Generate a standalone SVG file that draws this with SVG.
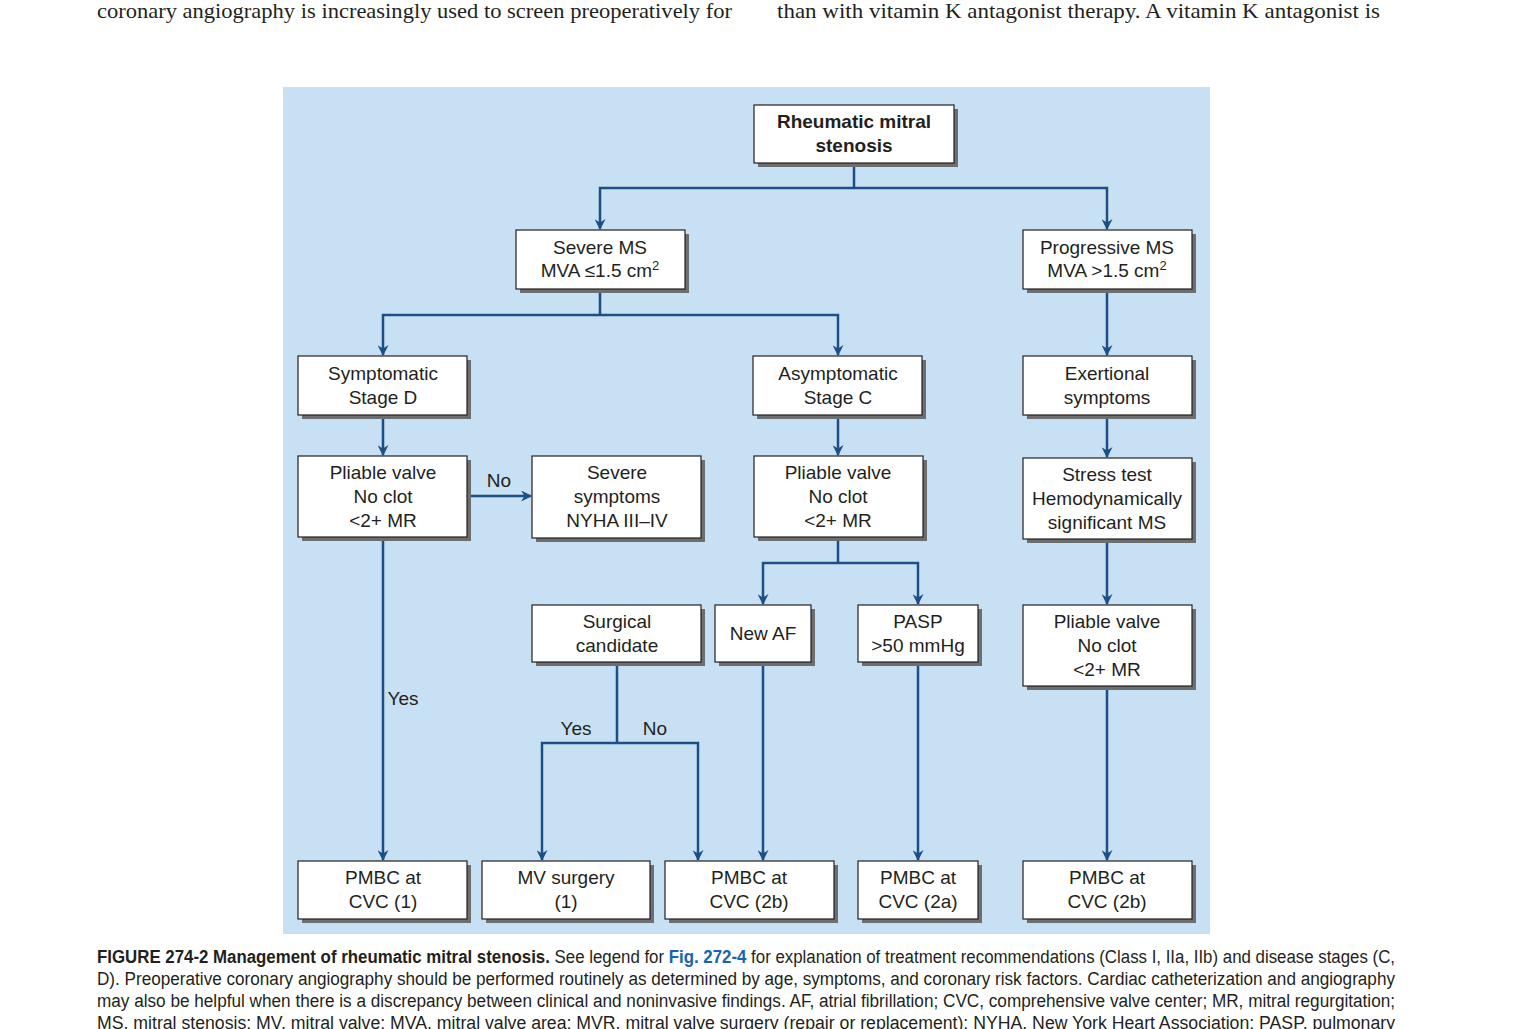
<svg xmlns="http://www.w3.org/2000/svg" width="1530" height="1029" viewBox="0 0 1530 1029">
<defs>
<marker id="ar" viewBox="0 0 10 10" refX="9" refY="5" markerWidth="13" markerHeight="11" orient="auto" markerUnits="userSpaceOnUse"><path d="M0,0 L10,5 L0,10 L3,5 z" fill="#1b4f86"/></marker>
</defs>
<style>
.sh{fill:#6d6e70}
.bx{fill:#fff;stroke:#231f20;stroke-width:1.2}
.t{font-family:"Liberation Sans",Arial,sans-serif;font-size:19px;fill:#231f20;text-anchor:middle}
.b{font-weight:bold}
.c{fill:none;stroke:#1b4f86;stroke-width:2.5}
.a{marker-end:url(#ar)}
.body{font-family:"Liberation Serif","Times New Roman",serif;font-size:21px;fill:#231f20}
.cap{font-family:"Liberation Sans",Arial,sans-serif;font-size:18px;fill:#231f20}
</style>
<rect width="1530" height="1029" fill="#fff"/>
<text class="body" x="97" y="18" textLength="635" lengthAdjust="spacingAndGlyphs">coronary angiography is increasingly used to screen preoperatively for</text>
<text class="body" x="777" y="18" textLength="603" lengthAdjust="spacingAndGlyphs">than with vitamin K antagonist therapy. A vitamin K antagonist is</text>
<rect x="283" y="87" width="927" height="847" fill="#c8e0f3"/>
<g id="connectors">
<polyline class="c" points="854,163 854,188"/>
<polyline class="c a" points="854,188 600,188 600,229"/>
<polyline class="c a" points="854,188 1107,188 1107,229"/>
<polyline class="c" points="600,289 600,315"/>
<polyline class="c a" points="600,315 383,315 383,355"/>
<polyline class="c a" points="600,315 838,315 838,355"/>
<polyline class="c a" points="1107,289 1107,355"/>
<polyline class="c a" points="383,415 383,455"/>
<polyline class="c a" points="838,415 838,455"/>
<polyline class="c a" points="1107,415 1107,457"/>
<polyline class="c a" points="467,496 531,496"/>
<polyline class="c a" points="383,537 383,860"/>
<polyline class="c" points="838,537 838,563"/>
<polyline class="c a" points="838,563 763,563 763,604"/>
<polyline class="c a" points="838,563 918,563 918,604"/>
<polyline class="c a" points="1107,539 1107,604"/>
<polyline class="c a" points="1107,686 1107,860"/>
<polyline class="c" points="617,662 617,743"/>
<polyline class="c a" points="617,743 542,743 542,860"/>
<polyline class="c a" points="617,743 698,743 698,860"/>
<polyline class="c a" points="763,662 763,860"/>
<polyline class="c a" points="918,662 918,860"/>
<text class="t" x="499" y="487">No</text>
<text class="t" x="403" y="705">Yes</text>
<text class="t" x="576" y="735">Yes</text>
<text class="t" x="655" y="735">No</text>
</g>
<g id="root"><rect class="sh" x="758" y="109" width="200" height="58"/><rect class="bx" x="754" y="105" width="200" height="58"/><text class="t b" x="854" y="128">Rheumatic mitral</text><text class="t b" x="854" y="152">stenosis</text></g>
<g id="severe"><rect class="sh" x="520" y="234" width="169" height="59"/><rect class="bx" x="516" y="230" width="169" height="59"/><text class="t" x="600" y="254">Severe MS</text><text class="t" x="600" y="277">MVA ≤1.5 cm<tspan dy="-7" font-size="13">2</tspan></text></g>
<g id="progressive"><rect class="sh" x="1027" y="234" width="169" height="59"/><rect class="bx" x="1023" y="230" width="169" height="59"/><text class="t" x="1107" y="254">Progressive MS</text><text class="t" x="1107" y="277">MVA &gt;1.5 cm<tspan dy="-7" font-size="13">2</tspan></text></g>
<g id="symptD"><rect class="sh" x="302" y="360" width="169" height="59"/><rect class="bx" x="298" y="356" width="169" height="59"/><text class="t" x="383" y="380">Symptomatic</text><text class="t" x="383" y="404">Stage D</text></g>
<g id="asymC"><rect class="sh" x="757" y="360" width="169" height="59"/><rect class="bx" x="753" y="356" width="169" height="59"/><text class="t" x="838" y="380">Asymptomatic</text><text class="t" x="838" y="404">Stage C</text></g>
<g id="exert"><rect class="sh" x="1027" y="360" width="169" height="59"/><rect class="bx" x="1023" y="356" width="169" height="59"/><text class="t" x="1107" y="380">Exertional</text><text class="t" x="1107" y="404">symptoms</text></g>
<g id="pliable1"><rect class="sh" x="302" y="460" width="169" height="81"/><rect class="bx" x="298" y="456" width="169" height="81"/><text class="t" x="383" y="479">Pliable valve</text><text class="t" x="383" y="503">No clot</text><text class="t" x="383" y="527">&lt;2+ MR</text></g>
<g id="severeSympt"><rect class="sh" x="536" y="460" width="169" height="82"/><rect class="bx" x="532" y="456" width="169" height="82"/><text class="t" x="617" y="479">Severe</text><text class="t" x="617" y="503">symptoms</text><text class="t" x="617" y="527">NYHA III–IV</text></g>
<g id="pliable2"><rect class="sh" x="758" y="460" width="169" height="81"/><rect class="bx" x="754" y="456" width="169" height="81"/><text class="t" x="838" y="479">Pliable valve</text><text class="t" x="838" y="503">No clot</text><text class="t" x="838" y="527">&lt;2+ MR</text></g>
<g id="stress"><rect class="sh" x="1027" y="462" width="169" height="81"/><rect class="bx" x="1023" y="458" width="169" height="81"/><text class="t" x="1107" y="481">Stress test</text><text class="t" x="1107" y="505">Hemodynamically</text><text class="t" x="1107" y="529">significant MS</text></g>
<g id="surgical"><rect class="sh" x="536" y="609" width="169" height="57"/><rect class="bx" x="532" y="605" width="169" height="57"/><text class="t" x="617" y="628">Surgical</text><text class="t" x="617" y="652">candidate</text></g>
<g id="newAF"><rect class="sh" x="719" y="609" width="96" height="57"/><rect class="bx" x="715" y="605" width="96" height="57"/><text class="t" x="763" y="640">New AF</text></g>
<g id="pasp"><rect class="sh" x="862" y="609" width="120" height="57"/><rect class="bx" x="858" y="605" width="120" height="57"/><text class="t" x="918" y="628">PASP</text><text class="t" x="918" y="652">&gt;50 mmHg</text></g>
<g id="pliable3"><rect class="sh" x="1027" y="609" width="169" height="81"/><rect class="bx" x="1023" y="605" width="169" height="81"/><text class="t" x="1107" y="628">Pliable valve</text><text class="t" x="1107" y="652">No clot</text><text class="t" x="1107" y="676">&lt;2+ MR</text></g>
<g id="pmbc1"><rect class="sh" x="302" y="865" width="169" height="58"/><rect class="bx" x="298" y="861" width="169" height="58"/><text class="t" x="383" y="884">PMBC at</text><text class="t" x="383" y="908">CVC (1)</text></g>
<g id="mvsurgery"><rect class="sh" x="486" y="865" width="168" height="58"/><rect class="bx" x="482" y="861" width="168" height="58"/><text class="t" x="566" y="884">MV surgery</text><text class="t" x="566" y="908">(1)</text></g>
<g id="pmbc2b"><rect class="sh" x="669" y="865" width="169" height="58"/><rect class="bx" x="665" y="861" width="169" height="58"/><text class="t" x="749" y="884">PMBC at</text><text class="t" x="749" y="908">CVC (2b)</text></g>
<g id="pmbc2a"><rect class="sh" x="862" y="865" width="120" height="58"/><rect class="bx" x="858" y="861" width="120" height="58"/><text class="t" x="918" y="884">PMBC at</text><text class="t" x="918" y="908">CVC (2a)</text></g>
<g id="pmbc2b2"><rect class="sh" x="1027" y="865" width="169" height="58"/><rect class="bx" x="1023" y="861" width="169" height="58"/><text class="t" x="1107" y="884">PMBC at</text><text class="t" x="1107" y="908">CVC (2b)</text></g>
<g id="caption">
<text class="cap" x="97" y="963" textLength="1298" lengthAdjust="spacingAndGlyphs"><tspan font-weight="bold">FIGURE 274-2  Management of rheumatic mitral stenosis.</tspan> See legend for <tspan font-weight="bold" fill="#1565b0">Fig. 272-4</tspan> for explanation of treatment recommendations (Class I, IIa, IIb) and disease stages (C,</text>
<text class="cap" x="97" y="985" textLength="1298" lengthAdjust="spacingAndGlyphs">D). Preoperative coronary angiography should be performed routinely as determined by age, symptoms, and coronary risk factors. Cardiac catheterization and angiography</text>
<text class="cap" x="97" y="1007" textLength="1298" lengthAdjust="spacingAndGlyphs">may also be helpful when there is a discrepancy between clinical and noninvasive findings. AF, atrial fibrillation; CVC, comprehensive valve center; MR, mitral regurgitation;</text>
<text class="cap" x="97" y="1029" textLength="1298" lengthAdjust="spacingAndGlyphs">MS, mitral stenosis; MV, mitral valve; MVA, mitral valve area; MVR, mitral valve surgery (repair or replacement); NYHA, New York Heart Association; PASP, pulmonary</text>
</g>
</svg>
